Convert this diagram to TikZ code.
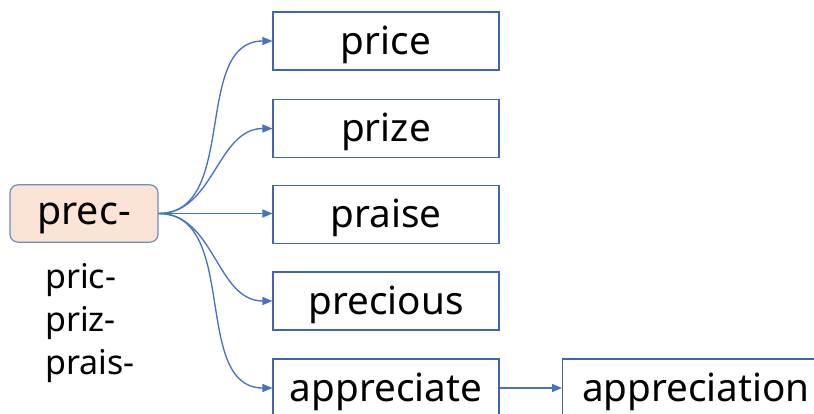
\documentclass[tikz,border=0pt]{standalone}
\usepackage{fontspec}
\setmainfont{Noto Sans}
\usetikzlibrary{positioning,arrows.meta}
\definecolor{rootfill}{HTML}{FBE4D6}
\definecolor{rootdraw}{HTML}{6A8CC7}
\definecolor{boxdraw}{HTML}{3F66B0}
\definecolor{linkblue}{HTML}{4472C4}

\tikzset{
    rootbox/.style={draw=rootdraw, fill=rootfill, rounded corners=6pt, line width=0.9pt,
        minimum width=111pt, minimum height=43pt, inner sep=0pt, text height=17pt, text depth=0pt,
        font=\fontsize{29.5}{34}\selectfont},
    wordbox/.style={draw=boxdraw, line width=0.8pt, minimum width=169.5pt, minimum height=43.5pt,
        inner sep=0pt, text height=20pt, text depth=0pt, font=\fontsize{29}{34}\selectfont},
    variant/.style={anchor=base west, inner sep=0pt, font=\fontsize{25.5}{30}\selectfont},
    link/.style={draw=linkblue, line width=1pt, -{Triangle[length=7.5pt,width=6pt]}}
}

\begin{document}
\begin{tikzpicture}[x=0.75pt, y=-0.75pt]
    \useasboundingbox (0,0) rectangle (814,414);
    \clip (0,0) rectangle (814,414);
    % Root
    \node[rootbox] (prec) at (84,213.5) {prec-};
    % Variant spellings
    \node[variant] (pric) at (45,288) {pric-};
    \node[variant] (priz) at (45,331) {priz-};
    \node[variant] (prais) at (45,374) {prais-};
    % Derived words
    \node[wordbox] (price) at (386,41) {price};
    \node[wordbox] (prize) at (386,128.5) {prize};
    \node[wordbox] (praise) at (386,214.5) {praise};
    \node[wordbox] (precious) at (386,301) {precious};
    \node[wordbox] (appreciate) at (386,388) {appreciate};
    \node[wordbox, anchor=west, minimum width=200pt] (appreciation) at (562,388) {appreciation};
    % Links
    \foreach \w in {price,prize,precious,appreciate} {
        \draw[link] (prec.east) to[out=0, in=180] (\w.west);
    }
    \draw[link] (prec.east) -- (praise.west |- prec.east);
    \draw[link] (appreciate) -- (appreciation);
\end{tikzpicture}
\end{document}
